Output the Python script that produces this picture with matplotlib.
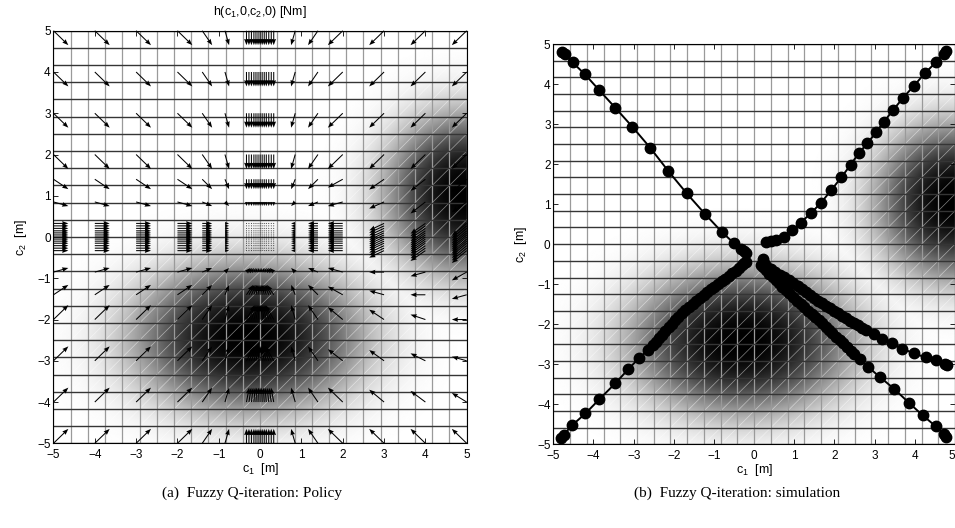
import numpy as np
import matplotlib
matplotlib.use("Agg")
import matplotlib.pyplot as plt

plt.rcParams['font.family'] = ['Liberation Sans', 'DejaVu Sans']
plt.rcParams['axes.unicode_minus'] = True

# ---------------- policy h(c1,0,c2,0) on the fuzzy grid ----------------
coarse = [-5, -4, -3, -2, -1.4, -0.85, 0, 0.85, 1.4, 2, 3, 4, 5]
fine = [-0.33, -0.27, -0.21, -0.15, -0.1, -0.05, 0, 0.05, 0.1, 0.15, 0.21, 0.27, 0.33]
rows_c2 = [5, 4, 3, 2, 1.4, 0.85, 0, -0.85, -1.4, -2, -3, -4, -5]

# horizontal force component per column (c1 = -5 ... 5)
u_col = [0.36, 0.36, 0.36, 0.36, 0.24, 0.10, 0.0, -0.10, -0.24, -0.36, -0.36, -0.36, -0.36]

# vertical force component, rows c2 = 5 ... -5, columns c1 = -5 ... 5
v_tab = [
    [-0.35, -0.35, -0.35, -0.35, -0.35, -0.35, -0.35, -0.35, -0.35, -0.35, -0.35, -0.35, -0.35],
    [-0.35, -0.35, -0.35, -0.35, -0.35, -0.35, -0.35, -0.35, -0.35, -0.35, -0.35, -0.35, -0.35],
    [-0.35, -0.35, -0.35, -0.35, -0.35, -0.35, -0.35, -0.35, -0.35, -0.35, -0.35, -0.35, -0.35],
    [-0.35, -0.35, -0.35, -0.35, -0.35, -0.35, -0.35, -0.35, -0.35, -0.35, -0.35, -0.35, -0.35],
    [-0.24, -0.24, -0.24, -0.24, -0.24, -0.24, -0.24, -0.24, -0.24, -0.20, -0.25, -0.28, -0.30],
    [-0.10, -0.10, -0.10, -0.10, -0.10, -0.10, -0.10, -0.10, -0.10, -0.10, -0.16, -0.28, -0.25],
    [0.00, 0.00, 0.00, 0.00, 0.00, 0.00, 0.00, 0.00, 0.00, 0.00, -0.17, -0.25, -0.30],
    [0.10, 0.10, 0.10, 0.10, 0.10, 0.10, 0.10, 0.10, 0.10, 0.10, 0.00, -0.10, -0.20],
    [0.24, 0.24, 0.24, 0.24, 0.24, 0.24, 0.24, 0.24, 0.24, 0.20, 0.10, 0.00, -0.10],
    [0.35, 0.35, 0.35, 0.35, 0.35, 0.35, 0.35, 0.35, 0.35, 0.30, 0.24, 0.12, 0.00],
    [0.35, 0.35, 0.35, 0.35, 0.35, 0.35, 0.35, 0.35, 0.35, 0.28, 0.26, 0.18, 0.10],
    [0.35, 0.35, 0.35, 0.35, 0.35, 0.35, 0.35, 0.35, 0.35, 0.35, 0.30, 0.27, 0.22],
    [0.35, 0.35, 0.35, 0.35, 0.35, 0.35, 0.35, 0.35, 0.35, 0.35, 0.35, 0.35, 0.35],
]

# inward pull of the centre-column arrows, per row (c2 = 5 ... -5)
center_pull = [0, 0, 0, 0, 0, 0, 0, 0.3, 0.5, 0.6, 0.6, 0.2, 0]

# ---------------- closed-loop trajectories ----------------
traj1_c1 = [-4.78, -4.72, -4.52, -4.21, -3.86, -3.46, -3.03, -2.59, -2.14, -1.68, -1.22, -0.80, -0.51, -0.32, -0.26, -0.21]
traj1_c2 = [4.81, 4.74, 4.54, 4.24, 3.85, 3.41, 2.93, 2.41, 1.83, 1.27, 0.75, 0.30, 0.03, -0.13, -0.18, -0.23]

traj2_c1 = [4.77, 4.72, 4.52, 4.25, 3.98, 3.71, 3.46, 3.23, 3.03, 2.82, 2.60, 2.40, 2.17, 1.92, 1.66, 1.41, 1.16, 0.95, 0.75, 0.55, 0.41, 0.29]
traj2_c2 = [4.83, 4.76, 4.54, 4.27, 3.96, 3.66, 3.35, 3.06, 2.79, 2.52, 2.27, 1.98, 1.67, 1.35, 1.03, 0.77, 0.54, 0.35, 0.18, 0.10, 0.07, 0.06]

traj3_c1 = [-4.81, -4.74, -4.54, -4.20, -3.86, -3.46, -3.13, -2.86, -2.65, -2.53, -2.45, -2.37, -2.29, -2.21,
            -2.13, -2.05, -1.97, -1.89, -1.80, -1.71, -1.62, -1.53, -1.44, -1.35, -1.26, -1.17, -1.08, -0.99,
            -0.90, -0.81, -0.72, -0.63, -0.54, -0.46, -0.38, -0.31, -0.25, -0.21]
traj3_c2 = [-4.84, -4.76, -4.53, -4.23, -3.88, -3.48, -3.12, -2.84, -2.65, -2.53, -2.44, -2.35, -2.26, -2.17,
            -2.08, -1.99, -1.90, -1.81, -1.72, -1.64, -1.56, -1.49, -1.42, -1.34, -1.27, -1.19, -1.12, -1.06,
            -0.99, -0.93, -0.86, -0.80, -0.73, -0.66, -0.59, -0.52, -0.47, -0.44]

traj4_c1 = [4.77, 4.72, 4.52, 4.20, 3.86, 3.48, 3.13, 2.84, 2.63, 2.49, 2.40, 2.31, 2.22, 2.13, 2.04, 1.95,
            1.86, 1.78, 1.70, 1.61, 1.52, 1.43, 1.34, 1.25, 1.16, 1.07, 0.97, 0.87, 0.79, 0.70, 0.62, 0.54,
            0.46, 0.38, 0.29, 0.22, 0.17]
traj4_c2 = [-4.82, -4.75, -4.55, -4.28, -3.97, -3.61, -3.32, -3.07, -2.88, -2.75, -2.66, -2.57, -2.48, -2.40,
            -2.31, -2.22, -2.14, -2.06, -1.98, -1.90, -1.82, -1.74, -1.66, -1.58, -1.49, -1.41, -1.32, -1.23,
            -1.15, -1.06, -0.98, -0.90, -0.82, -0.74, -0.65, -0.58, -0.52]

traj5_c1 = [4.79, 4.74, 4.53, 4.27, 3.98, 3.69, 3.44, 3.19, 2.99, 2.78, 2.68, 2.58, 2.48, 2.39, 2.29, 2.19,
            2.09, 1.99, 1.90, 1.80, 1.70, 1.60, 1.49, 1.39, 1.28, 1.18, 1.08, 0.97, 0.87, 0.75, 0.64, 0.52,
            0.41, 0.29, 0.24, 0.23]
traj5_c2 = [-3.03, -3.00, -2.90, -2.83, -2.73, -2.61, -2.48, -2.38, -2.25, -2.15, -2.09, -2.03, -1.97, -1.91,
            -1.85, -1.79, -1.72, -1.66, -1.60, -1.54, -1.48, -1.41, -1.34, -1.26, -1.19, -1.12, -1.05, -0.97,
            -0.90, -0.83, -0.76, -0.69, -0.62, -0.55, -0.46, -0.38]

trajectories = [(traj1_c1, traj1_c2), (traj2_c1, traj2_c2), (traj3_c1, traj3_c2),
                (traj4_c1, traj4_c2), (traj5_c1, traj5_c2)]

# ---------------- shaded surface (two dark basins) ----------------
basin_centers = [(-0.3, -2.45), (5.0, 1.05)]
basin_widths = [(1.9, 1.25), (1.35, 1.35)]
basin_flatness = 1.35

ticks = [-5, -4, -3, -2, -1, 0, 1, 2, 3, 4, 5]
n_cells = 24


def shaded_surface(ax):
    g = np.linspace(-5, 5, 500)
    xx, yy = np.meshgrid(g, g)
    depth = np.zeros_like(xx)
    for (cx, cy), (sx, sy) in zip(basin_centers, basin_widths):
        r2 = 0.5 * (((xx - cx) / sx) ** 2 + ((yy - cy) / sy) ** 2)
        depth = np.maximum(depth, np.exp(-r2 ** basin_flatness))
    ax.imshow(1.0 - depth, cmap='gray', vmin=0, vmax=1, extent=[-5, 5, -5, 5],
              origin='lower', interpolation='bilinear', aspect='auto', zorder=0)
    edges = np.linspace(-5, 5, n_cells + 1)
    step = edges[1] - edges[0]
    span = np.array([-5.0, 5.0])
    for k in range(-n_cells, n_cells + 1):
        ax.plot(span, span + k * step, color='white', lw=0.5, alpha=0.5, zorder=1)
    for e in edges:
        ax.axvline(e, color='#9a9a9a', lw=0.9, zorder=2)
    for e in edges:
        ax.axhline(e, color='#353535', lw=1.0, zorder=2)


def style_axes(ax):
    ax.set_xlim(-5, 5)
    ax.set_ylim(-5, 5)
    ax.set_xticks(ticks)
    ax.set_yticks(ticks)
    ax.tick_params(direction='in', length=3.5, width=0.6, top=True, right=True,
                   labelsize=8.5)
    ax.tick_params(axis='x', pad=4)
    ax.tick_params(axis='y', pad=2)
    for s in ax.spines.values():
        s.set_linewidth(0.8)
        s.set_zorder(10)
    ax.set_xlabel(r'c$_{\mathregular{1}}$  [m]', fontsize=9, labelpad=0)
    ax.set_ylabel(r'c$_{\mathregular{2}}$  [m]', fontsize=9, labelpad=6)


fig = plt.figure(figsize=(9.55, 5.28), dpi=100)
ax1 = fig.add_axes([0.0560, 0.1604, 0.4327, 0.7814])
ax2 = fig.add_axes([0.5794, 0.1585, 0.4206, 0.7581])

# ---- (a) policy ----
shaded_surface(ax1)
X, Y, U, V = [], [], [], []
for r, c2 in enumerate(rows_c2):
    for k, c1 in enumerate(coarse):
        if r == 6 and k == 6:
            for fy in fine:
                for fx in fine:
                    X.append(fx); Y.append(fy); U.append(0.0); V.append(0.0)
        elif k == 6:
            for fx in fine:
                X.append(fx); Y.append(c2); U.append(-center_pull[r] * fx); V.append(v_tab[r][k])
        elif r == 6:
            for fy in fine:
                X.append(c1); Y.append(fy); U.append(u_col[k]); V.append(v_tab[r][k])
        else:
            X.append(c1); Y.append(c2); U.append(u_col[k]); V.append(v_tab[r][k])

ax1.quiver(X, Y, U, V, angles='xy', scale_units='xy', scale=1, color='k',
           width=0.0025, headwidth=4.5, headlength=6, headaxislength=5.5,
           zorder=5, clip_on=False)
style_axes(ax1)
ax1.set_title(r'h(c$_{\mathregular{1}}$,0,c$_{\mathregular{2}}$,0) [Nm]', fontsize=9, pad=11)

# ---- (b) simulation ----
shaded_surface(ax2)
for tx, ty in trajectories:
    ax2.plot(tx, ty, '-o', color='k', lw=1.4, ms=7.5, mfc='k', mec='k', zorder=6, clip_on=False)
style_axes(ax2)
# keep the last x tick label inside the figure edge
ax2.get_xticklabels()[-1].set_horizontalalignment('right')

fig.text(0.2634, 0.066, '(a)  Fuzzy Q-iteration: Policy', family='Liberation Serif',
         fontsize=11, ha='center', va='center')
fig.text(0.7723, 0.066, '(b)  Fuzzy Q-iteration: simulation', family='Liberation Serif',
         fontsize=11, ha='center', va='center')

fig.savefig('out.png', dpi=100)
